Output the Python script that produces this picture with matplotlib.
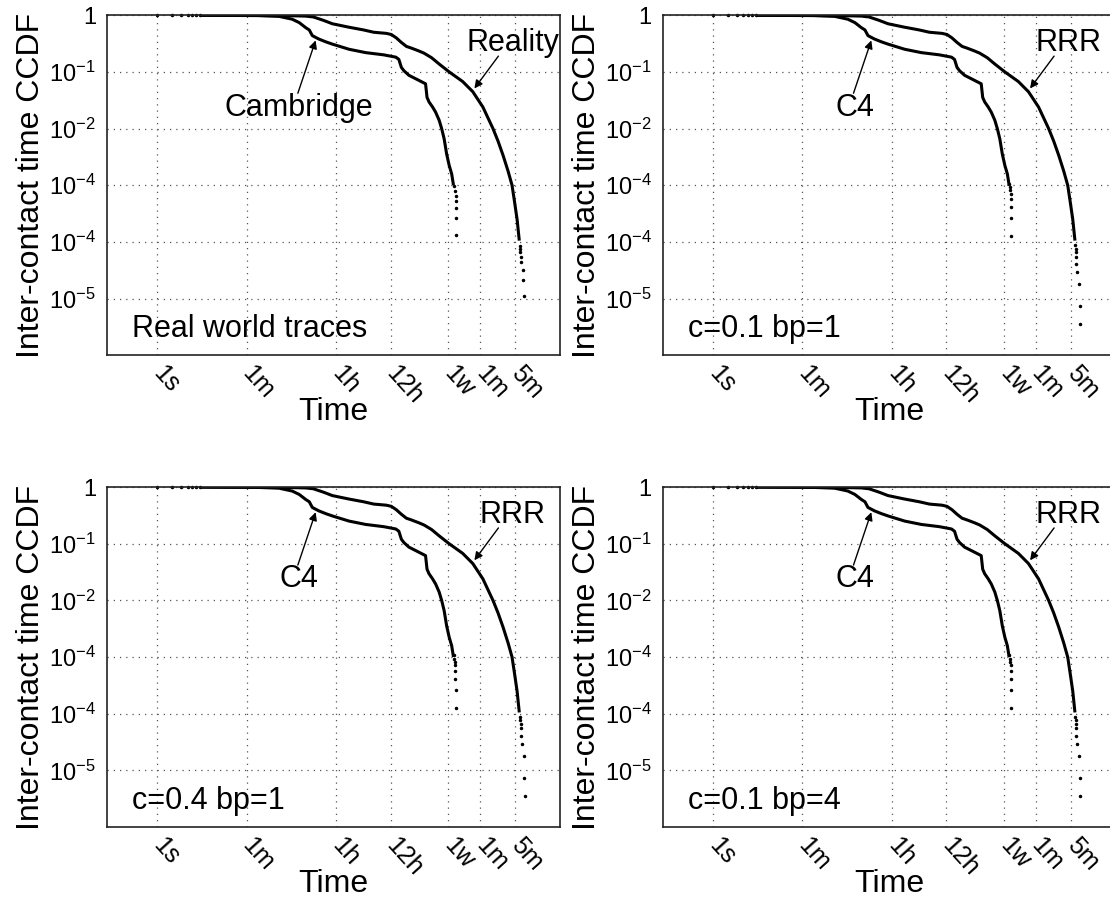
import matplotlib
matplotlib.use("Agg")
import matplotlib.pyplot as plt

plt.rcParams['font.family'] = ['Liberation Sans', 'DejaVu Sans']
plt.rcParams['mathtext.fontset'] = 'custom'
plt.rcParams['mathtext.rm'] = 'Liberation Sans'
plt.rcParams['mathtext.default'] = 'regular'

# x tick positions (seconds) and labels
xtick_vals = [1, 60, 3600, 43200, 604800, 2592000, 12960000]
xtick_labels = ['1s', '1m', '1h', '12h', '1w', '1m', '5m']
ytick_vals = [1, 1e-1, 1e-2, 1e-3, 1e-4, 1e-5]
ytick_labels = ['1', '$10^{-1}$', '$10^{-2}$', '$10^{-4}$', '$10^{-4}$', '$10^{-5}$']

# first few samples sitting at the top
head_x = [1, 2, 3, 4, 5, 6, 7]
head_y = [0.9995, 0.9995, 0.9995, 0.9995, 0.9995, 0.9995, 0.9995]

# upper curve (Reality / RRR)
upper_x = [8, 100, 400, 890, 1260, 2000, 3000, 6300, 12600, 20000, 35500, 44700,
           56200, 70800, 89100, 112000, 158000, 200000, 282000, 398000, 631000,
           1.17e6, 1.86e6, 2.95e6, 4.68e6, 5.89e6, 7.41e6, 9.33e6, 1.12e7,
           1.26e7, 1.41e7, 1.55e7]
upper_y = [0.998, 0.991, 0.982, 0.966, 0.933, 0.813, 0.708, 0.617, 0.550, 0.501,
           0.479, 0.457, 0.398, 0.331, 0.282, 0.263, 0.234, 0.214, 0.178, 0.138,
           0.1, 0.0676, 0.0447, 0.0240, 0.01, 0.00603, 0.00339, 0.00178, 0.001,
           0.000501, 0.000251, 0.000112]

# lower curve (Cambridge / C4)
lower_x = [8, 100, 263, 479, 661, 891, 1047, 1202, 1622, 2239, 3020, 6457, 13800,
           31600, 55000, 63100, 70800, 79400, 100000, 158000, 214000, 229000,
           251000, 295000, 339000, 398000, 447000, 501000, 562000, 631000,
           708000, 759000]
lower_y = [0.998, 0.986, 0.955, 0.851, 0.741, 0.603, 0.550, 0.437, 0.380, 0.339,
           0.309, 0.251, 0.219, 0.2, 0.182, 0.166, 0.120, 0.105, 0.0871, 0.0708,
           0.0617, 0.0355, 0.0295, 0.0240, 0.0195, 0.0141, 0.01, 0.0066, 0.00355,
           0.00224, 0.00158, 0.00107]

# sparse tails, real traces
real_up_tail_x = [1.62e7, 1.62e7, 1.62e7, 1.66e7, 1.70e7, 1.82e7, 1.86e7, 1.95e7]
real_up_tail_y = [8.3e-5, 7.6e-5, 6.5e-5, 5.4e-5, 4.4e-5, 3.2e-5, 2.1e-5, 1.1e-5]
real_lo_tail_x = [794000, 832000, 851000, 851000, 871000, 871000, 871000]
real_lo_tail_y = [9.5e-4, 7.8e-4, 6.5e-4, 5.2e-4, 3.9e-4, 2.6e-4, 1.35e-4]

# sparse tails, synthetic traces
syn_up_tail_x = [1.58e7, 1.62e7, 1.66e7, 1.66e7, 1.66e7, 1.74e7, 1.91e7, 1.95e7, 2.0e7]
syn_up_tail_y = [8.7e-5, 7.6e-5, 6.6e-5, 5.5e-5, 4.0e-5, 2.9e-5, 1.8e-5, 7.4e-6, 3.6e-6]
syn_lo_tail_x = [776000, 794000, 813000, 832000, 832000, 832000, 851000, 851000]
syn_lo_tail_y = [1.07e-3, 9.3e-4, 8.1e-4, 7.1e-4, 5.6e-4, 4.1e-4, 2.6e-4, 1.26e-4]

panel_titles = ['Real world traces', 'c=0.1 bp=1', 'c=0.4 bp=1', 'c=0.1 bp=4']
upper_names = ['Reality', 'RRR', 'RRR', 'RRR']
lower_names = ['Cambridge', 'C4', 'C4', 'C4']

fig = plt.figure(figsize=(11.1, 8.97), dpi=100)
w, h = 0.408, 0.379
rects = [[0.0964, 0.604, w, h], [0.597, 0.604, w, h],
         [0.0964, 0.078, w, h], [0.597, 0.078, w, h]]

for i, r in enumerate(rects):
    ax = fig.add_axes(r)
    ax.set_xscale('log')
    ax.set_yscale('log')
    ax.set_xlim(0.1, 1e8)
    ax.set_ylim(1e-6, 1)

    if i == 0:
        ut_x, ut_y, lt_x, lt_y = real_up_tail_x, real_up_tail_y, real_lo_tail_x, real_lo_tail_y
    else:
        ut_x, ut_y, lt_x, lt_y = syn_up_tail_x, syn_up_tail_y, syn_lo_tail_x, syn_lo_tail_y

    ax.plot(upper_x, upper_y, color='k', lw=2.2, solid_joinstyle='round')
    ax.plot(lower_x, lower_y, color='k', lw=2.2, solid_joinstyle='round')
    ax.plot(ut_x, ut_y, 'k.', ms=3)
    ax.plot(lt_x, lt_y, 'k.', ms=3)
    ax.plot(head_x, head_y, 'k.', ms=3, clip_on=False)

    ax.set_xticks(xtick_vals)
    ax.set_xticklabels(xtick_labels, rotation=-48, ha='left', va='center',
                       rotation_mode='anchor', fontsize=18)
    ax.set_xticks([], minor=True)
    ax.set_yticks(ytick_vals)
    ax.set_yticklabels(ytick_labels, fontsize=17)
    ax.set_yticks([], minor=True)
    ax.tick_params(axis='x', direction='in', length=0, pad=10)
    ax.tick_params(axis='y', direction='in', length=0, pad=8)
    ax.grid(True, which='major', linestyle=(0, (1, 4)), color='#555555', lw=0.9)
    for s in ax.spines.values():
        s.set_linewidth(1.2)
        s.set_color('#222222')

    ax.set_xlabel('Time', fontsize=23, labelpad=-8)
    ax.set_ylabel('Inter-contact time CCDF', fontsize=23, labelpad=2)

    ax.text(0.055, 0.053, panel_titles[i], transform=ax.transAxes, fontsize=22,
            ha='left', va='baseline')

    # lower curve annotation
    ax.annotate('', xy=(1400, 0.36), xytext=(620, 0.042),
                arrowprops=dict(arrowstyle='-|>', color='k', lw=1.0,
                                mutation_scale=12, shrinkA=0, shrinkB=0))
    ax.text(650, 0.0235, lower_names[i], fontsize=22, ha='center', va='center')

    # upper curve annotation
    ax.annotate('', xy=(2.0e6, 0.051), xytext=(6.0e6, 0.19),
                arrowprops=dict(arrowstyle='-|>', color='k', lw=1.0,
                                mutation_scale=12, shrinkA=0, shrinkB=0))
    ax.text(1.15e7, 0.32, upper_names[i], fontsize=22, ha='center', va='center')

fig.savefig('out.png', dpi=100)
